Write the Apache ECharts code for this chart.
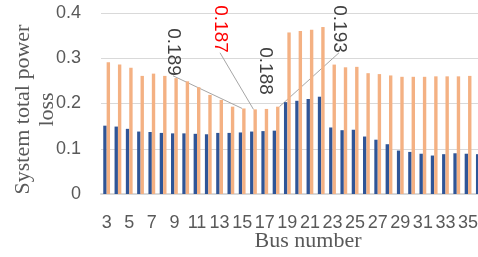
<!DOCTYPE html>
<html>
<head>
<meta charset="utf-8">
<script src="https://cdn.jsdelivr.net/npm/echarts@6/dist/echarts.min.js"></script>
<style>
  html, body { margin: 0; padding: 0; background: #fff; overflow: hidden; }
  #chart { width: 478px; height: 257px; }
</style>
</head>
<body>
<div id="chart"></div>
<script>
// bus numbers 3..36 (last one is cut off at the right edge)
const busNumbers = ['3','4','5','6','7','8','9','10','11','12','13','14','15','16','17','18','19','20',
  '21','22','23','24','25','26','27','28','29','30','31','32','33','34','35','36'];

// blue series
const lossA = [0.151, 0.149, 0.144, 0.138, 0.137, 0.135, 0.134, 0.134, 0.133, 0.132, 0.135, 0.135,
  0.136, 0.138, 0.139, 0.140, 0.203, 0.206, 0.210, 0.215, 0.147, 0.141, 0.142, 0.127, 0.120, 0.110,
  0.096, 0.093, 0.089, 0.085, 0.088, 0.090, 0.089, 0.088];

// orange series
const lossB = [0.291, 0.286, 0.279, 0.261, 0.266, 0.261, 0.256, 0.249, 0.236, 0.219, 0.208, 0.193,
  0.189, 0.187, 0.188, 0.193, 0.357, 0.360, 0.363, 0.369, 0.286, 0.280, 0.281, 0.267, 0.265, 0.262,
  0.259, 0.259, 0.259, 0.260, 0.260, 0.260, 0.261, 0.260];

// annotated points on the orange series: index, colour, label centre in px
const labelIdx = [12, 13, 14, 15];
const labelColor = ['#404040', '#FF0000', '#404040', '#404040'];
const labelPos = [[173, 52], [220, 29], [265, 71], [339, 29]];

const chart = echarts.init(document.getElementById('chart'));

const orangeData = lossB.map((v, i) => {
  const k = labelIdx.indexOf(i);
  if (k < 0) return v;
  return {
    value: v,
    label: {
      show: true,
      position: 'top',
      rotate: -90,
      align: 'center',
      verticalAlign: 'middle',
      color: labelColor[k],
      fontSize: 19,
      fontFamily: 'Liberation Sans',
      formatter: p => p.value.toFixed(3)
    },
    labelLine: { show: k !== 2, lineStyle: { color: '#A6A6A6', width: 1 } }
  };
});

const option = {
  animation: false,
  backgroundColor: '#fff',
  grid: { left: 101, right: -7, top: 13, bottom: 63, outerBoundsMode: 'none' },
  xAxis: {
    type: 'category',
    data: busNumbers,
    name: 'Bus number',
    nameLocation: 'middle',
    nameGap: 36,
    nameMoveOverlap: false,
    nameTextStyle: { fontFamily: 'Liberation Serif', fontSize: 22, color: '#595959', padding: [0, 0, 0, 30] },
    axisLine: { lineStyle: { color: '#D9D9D9', width: 2 } },
    axisTick: { show: false },
    axisLabel: { interval: 1, margin: 20, color: '#595959', fontSize: 18, fontFamily: 'Liberation Sans' }
  },
  yAxis: {
    type: 'value',
    min: 0,
    max: 0.4,
    interval: 0.1,
    name: 'System total power\nloss',
    nameLocation: 'middle',
    nameRotate: 90,
    nameGap: 42,
    nameMoveOverlap: false,
    nameTextStyle: { fontFamily: 'Liberation Serif', fontSize: 22, lineHeight: 24, color: '#595959', align: 'center', padding: [0, 12, 0, 0] },
    axisLine: { show: false },
    axisTick: { show: false },
    splitLine: { lineStyle: { color: '#D9D9D9', width: 1 } },
    axisLabel: { margin: 20, color: '#595959', fontSize: 18, fontFamily: 'Liberation Sans' }
  },
  series: [
    {
      type: 'bar',
      data: lossA,
      barGap: '0%',
      barCategoryGap: '40%',
      itemStyle: { color: '#2F5597' }
    },
    {
      type: 'bar',
      data: orangeData,
      itemStyle: { color: '#F4B183' },
      labelLayout: p => {
        const k = labelIdx.indexOf(p.dataIndex);
        if (k < 0) return {};
        return { x: labelPos[k][0], y: labelPos[k][1] };
      }
    }
  ]
};

chart.setOption(option);
</script>
</body>
</html>
